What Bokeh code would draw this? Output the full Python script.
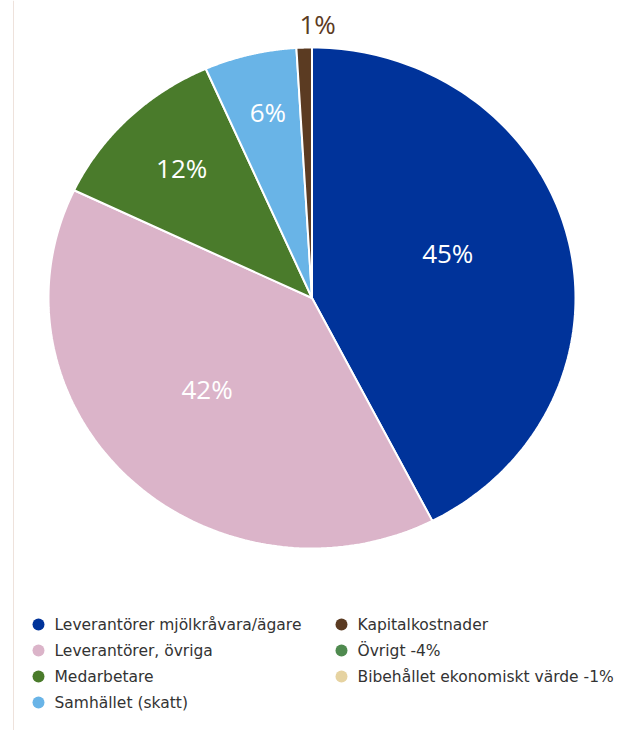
import numpy as np
from bokeh.plotting import figure
from bokeh.models import Range1d, Span
from bokeh.core.properties import value
from bokeh.embed import file_html
from bokeh.resources import INLINE

# ---- data ----
categories = ["Leverantörer mjölkråvara/ägare", "Leverantörer, övriga", "Medarbetare",
              "Samhället (skatt)", "Kapitalkostnader", "Övrigt", "Bibehållet ekonomiskt värde"]
values = [45, 42, 12, 6, 1, -4, -1]
colors = ["#00339a", "#dbb4c9", "#4a7b2b", "#69b4e7", "#5b3b22", "#4f8a4f", "#e6d3a1"]

# ---- layout constants ----
W, H = 626, 730
cx, cy = 311.5, 297.5
rx, ry = 263.5, 250.5
label_frac = [0.53, 0.55, 0.71, 0.73, 1.08]
label_dx = [0, -4, 0, 1, 14]
label_dy = [-14, -8, -2, -8, -4]

p = figure(width=W, height=H, output_backend="svg", toolbar_location=None,
           x_range=Range1d(0, W), y_range=Range1d(H, 0),
           x_axis_type=None, y_axis_type=None, min_border=0)
p.outline_line_color = None
p.grid.visible = False

p.add_layout(Span(location=13, dimension="height", line_color="#eee2dc", line_width=1))

# pie (positive values only)
pos = [(c, v, col) for c, v, col in zip(categories, values, colors) if v > 0]
total = sum(v for _, v, _ in pos)
xs, ys, fills = [], [], []
lx, ly, ltxt, lcol = [], [], [], []
start = 0.0
for i, (c, v, col) in enumerate(pos):
    span = v / total * 2 * np.pi
    a = np.linspace(start, start + span, 120)
    xs.append([cx] + list(cx + rx * np.sin(a)))
    ys.append([cy] + list(cy - ry * np.cos(a)))
    fills.append(col)
    mid = start + span / 2
    f = label_frac[i]
    lx.append(cx + f * rx * np.sin(mid) + label_dx[i])
    ly.append(cy - f * ry * np.cos(mid) + label_dy[i])
    ltxt.append(f"{v}%")
    lcol.append("#ffffff" if f < 1 else col)
    start += span

p.patches(xs, ys, fill_color=fills, line_color="white", line_width=2)
p.text(lx, ly, text=ltxt, text_color=lcol, text_font=value("Open Sans"),
       text_font_size="26px", text_align="center", text_baseline="middle")

# legend (two columns)
leg_labels = [c if v > 0 else f"{c} {v}%" for c, v in zip(categories, values)]
col_x = [38, 341]
row_y0, row_dy = 624, 26
mx, my, tx, ty = [], [], [], []
for i in range(len(leg_labels)):
    col = 0 if i < 4 else 1
    row = i if i < 4 else i - 4
    mx.append(col_x[col])
    my.append(row_y0 + row * row_dy)
    tx.append(col_x[col] + 16)
    ty.append(row_y0 + row * row_dy)
p.scatter(mx, my, size=12, fill_color=colors, line_color=None)
p.text(tx, ty, text=leg_labels, text_color="#333333", text_font=value("DejaVu Sans"),
       text_font_size="15.5px", text_align="left", text_baseline="middle")

open("out.html", "w").write(file_html(p, INLINE))
